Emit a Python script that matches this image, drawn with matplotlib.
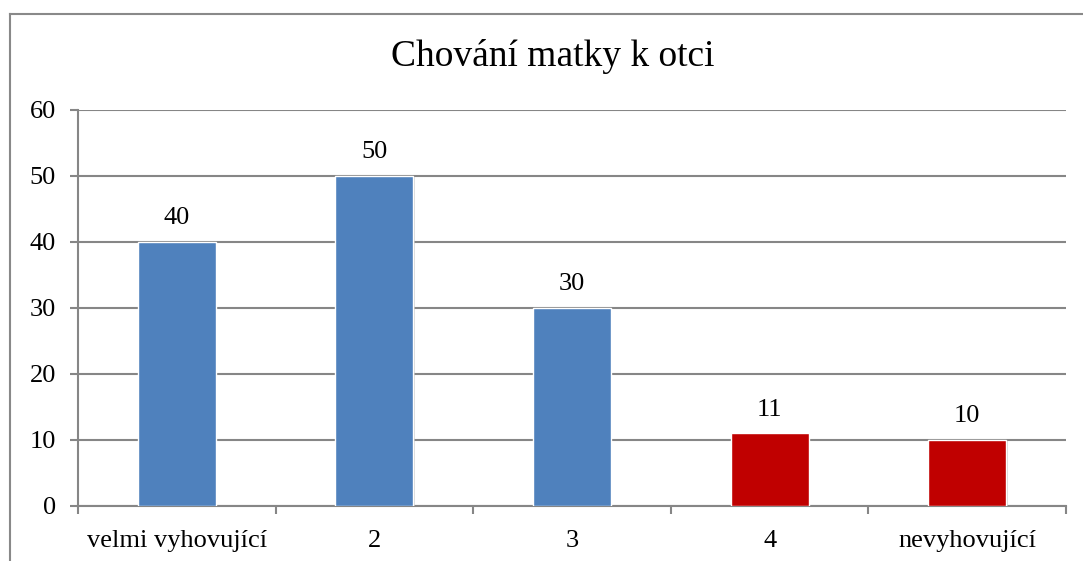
import matplotlib
matplotlib.use("Agg")
import matplotlib.pyplot as plt
from matplotlib.lines import Line2D
import matplotlib.patheffects as pe

categories = ["velmi vyhovující", "2", "3", "4", "nevyhovující"]
values = [40, 50, 30, 11, 10]
colors = ["#4F81BD", "#4F81BD", "#4F81BD", "#C00000", "#C00000"]
yticks = [0, 10, 20, 30, 40, 50, 60]
title = "Chování matky k otci"

plt.rcParams['font.family'] = ['Liberation Serif', 'DejaVu Serif']

W, H = 1083, 561
fig = plt.figure(figsize=(W / 100, H / 100), dpi=100)
ax = fig.add_axes([78 / W, 55 / H, (1066 - 78) / W, (506 - 110) / H])

x = list(range(len(categories)))
bars = ax.bar(x, values, width=0.395, color=colors, edgecolor="white", linewidth=1.0, zorder=3)
for b in bars:
    b.set_path_effects([pe.SimplePatchShadow(offset=(1, -1), shadow_rgbFace="#bbbbbb", alpha=0.6), pe.Normal()])

for xi, v in zip(x, values):
    ax.annotate(str(v), (xi, v), xytext=(0, 9), textcoords="offset points",
                ha="center", va="bottom", fontsize=19, color="black")

ax.set_xlim(-0.5, len(categories) - 0.5)
ax.set_ylim(0, 60)
ax.set_yticks(yticks)
ax.set_yticklabels([str(t) for t in yticks], fontsize=19)
ax.set_xticks(x)
ax.set_xticklabels(categories, fontsize=19)
ax.set_xticks([i - 0.5 for i in range(len(categories) + 1)], minor=True)
ax.tick_params(axis="x", which="major", length=0, pad=17)
ax.tick_params(axis="x", which="minor", length=6, width=1.5, color="#868686", direction="out")
ax.tick_params(axis="y", length=6, width=1.5, color="#868686", direction="out", pad=10)

ax.grid(axis="y", color="#868686", linewidth=1.5, zorder=0)
ax.set_axisbelow(True)
for s in ["top", "right"]:
    ax.spines[s].set_visible(False)
for s in ["left", "bottom"]:
    ax.spines[s].set_color("#868686")
    ax.spines[s].set_linewidth(1.5)

fig.text(553 / W, 1 - 66 / H, title, ha="center", va="baseline", fontsize=27)

fig.add_artist(Line2D([10 / W, 1.0], [1 - 14 / H, 1 - 14 / H], transform=fig.transFigure, color="#898989", linewidth=1.5))
fig.add_artist(Line2D([10 / W, 10 / W], [0, 1 - 14 / H], transform=fig.transFigure, color="#898989", linewidth=1.5))

fig.savefig("out.png", dpi=100)
